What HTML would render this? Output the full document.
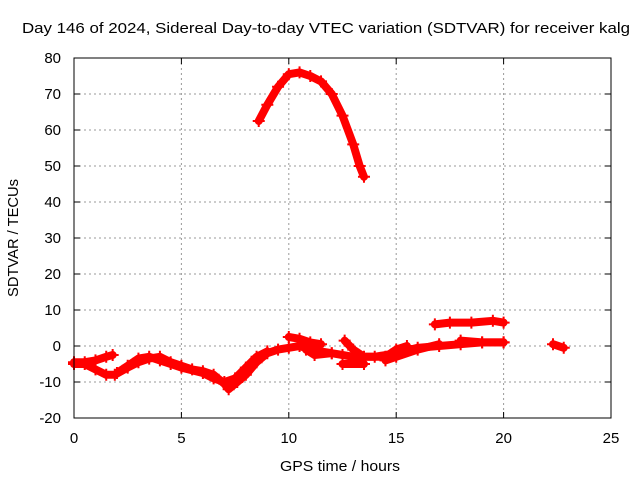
<!DOCTYPE html>
<html><head><meta charset="utf-8"><style>
body{margin:0;background:#fff;}
svg text{font-family:"Liberation Sans",sans-serif;fill:#000;}
</style></head><body>
<svg width="640" height="480" xmlns="http://www.w3.org/2000/svg">
<rect width="640" height="480" fill="#fff"/>
<g id="grid"></g>
<g id="marks"></g>
<rect x="74" y="58" width="537" height="360" fill="none" stroke="#000"/>
<g id="ticks"></g>
<text x="326" y="33" font-size="15" text-anchor="middle" textLength="608" lengthAdjust="spacingAndGlyphs">Day 146 of 2024, Sidereal Day-to-day VTEC variation (SDTVAR) for receiver kalg</text>
<text x="340" y="471" font-size="15" text-anchor="middle" textLength="120" lengthAdjust="spacingAndGlyphs">GPS time / hours</text>
<text transform="translate(18,238) rotate(-90)" font-size="15" text-anchor="middle" textLength="118" lengthAdjust="spacingAndGlyphs">SDTVAR / TECUs</text>
</svg>
<script>
const xTicks=[0,5,10,15,20,25];
const yTicks=[-20,-10,0,10,20,30,40,50,60,70,80];
const seriesA=[[0,-5],[0.5,-5],[1,-6.5],[1.5,-8],[1.9,-8],[2.5,-6],[3,-4.5],[3.5,-3.5],[4,-3],[4.5,-4.5],[5,-5.5],[5.5,-6.5],[6,-7],[6.5,-8],[7,-10.5],[7.2,-12],[7.6,-10],[8,-8],[8.5,-4.5],[9,-2],[9.5,-1],[10,-0.5],[10.5,0],[11,-1],[11.5,-1.5],[12,-2],[12.5,-2.5],[13,-3],[14,-3],[15,-2],[16,-0.5],[17,0],[18,0.5],[19,1],[20,1]];
const seriesB=[[0,-4.5],[0.5,-4.5],[1,-4],[1.5,-3],[1.8,-2.5]];
const seriesB2=[[2,-7.5],[2.5,-5.5],[3,-3.5],[3.5,-3],[4,-4],[4.5,-5],[5,-6],[6,-7.5],[6.5,-9],[7,-10],[7.5,-9],[8,-6],[8.5,-3],[9,-1.5]];
const seriesArc=[[8.6,62.5],[9,67],[9.5,72],[10,75.5],[10.5,76],[11,75],[11.5,73.5],[12,70],[12.5,64],[13,56],[13.3,50],[13.5,47]];
const seriesUpper=[[16.8,6],[17.5,6.5],[18.5,6.5],[19.5,7],[20,6.5]];
const seriesMid=[[18,1.5],[19,1],[20,1]];
const seriesSmall1=[[10,2.5],[10.5,2],[11,1],[11.5,0.5]];
const seriesSmall2=[[10.8,-1],[11.2,-2.5],[12,-2]];
const seriesSmall3=[[12.6,1.5],[13,-1],[13.5,-3],[14.5,-3],[15,-1],[15.5,0]];
const seriesSmall4=[[12.5,-5],[13.5,-5]];
const seriesSmall5=[[14.5,-4],[15,-3],[16,-1],[17,0.5]];
const seriesSmall6=[[22.3,0.5],[22.8,-0.5]];
const allSeries=[seriesA,seriesB,seriesB2,seriesArc,seriesUpper,seriesMid,seriesSmall1,seriesSmall2,seriesSmall3,seriesSmall4,seriesSmall5,seriesSmall6];
const NS="http://www.w3.org/2000/svg";
const X=v=>74+(v-0)/25*537;
const Y=v=>418-(v+20)/100*360;
const grid=document.getElementById('grid'),ticks=document.getElementById('ticks'),marks=document.getElementById('marks');
function mk(t,a,p){const e=document.createElementNS(NS,t);for(const k in a)e.setAttribute(k,a[k]);p.appendChild(e);return e;}
xTicks.forEach(v=>{
 if(v>0&&v<25){const l=mk('line',{x1:X(v),x2:X(v),y1:58,y2:418,stroke:'#999','stroke-dasharray':'2,3'},grid);
 
 }
 mk('line',{x1:X(v),x2:X(v),y1:418,y2:412,stroke:'#000'},ticks);
 mk('line',{x1:X(v),x2:X(v),y1:58,y2:64,stroke:'#000'},ticks);
 const t=mk('text',{x:X(v),y:443,'font-size':15,'text-anchor':'middle'},ticks);t.textContent=v;
 
 
});
yTicks.forEach(v=>{
 if(v>-20&&v<80){const l=mk('line',{x1:74,x2:611,y1:Y(v),y2:Y(v),stroke:'#999','stroke-dasharray':'2,3'},grid);
 
 }
 mk('line',{x1:74,x2:80,y1:Y(v),y2:Y(v),stroke:'#000'},ticks);
 mk('line',{x1:605,x2:611,y1:Y(v),y2:Y(v),stroke:'#000'},ticks);
 const t=mk('text',{x:61,y:Y(v)+5,'font-size':15,'text-anchor':'end'},ticks);t.textContent=v;
 
 
});
allSeries.forEach(s=>{
 const pl=mk('polyline',{points:s.map(p=>X(p[0])+','+Y(p[1])).join(' '),fill:'none',stroke:'#f00','stroke-width':8,'stroke-linejoin':'round','stroke-linecap':'round'},marks);
 
 
 s.forEach(p=>{const x=X(p[0]),y=Y(p[1]);
  const m=mk('path',{d:`M${x-6},${y}h12M${x},${y-6}v12`,stroke:'#f00','stroke-width':2},marks);
  
  
 });
});
</script>
</body></html>
